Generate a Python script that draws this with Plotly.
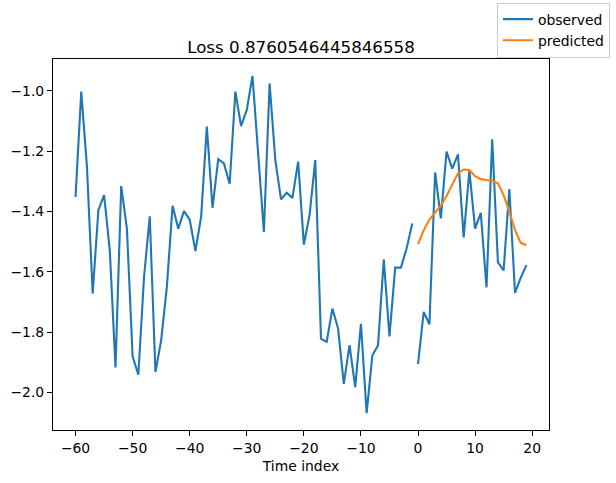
import plotly.graph_objects as go

# Observed history (t = -60 .. -1)
hist_t = list(range(-60, 0))
hist_obs = [
    -1.352, -1.003, -1.252, -1.672, -1.396, -1.346, -1.528, -1.917, -1.316, -1.457,
    -1.880, -1.941, -1.617, -1.416, -1.932, -1.827, -1.650, -1.381, -1.457, -1.399,
    -1.427, -1.531, -1.418, -1.119, -1.388, -1.227, -1.241, -1.309, -1.003, -1.117,
    -1.064, -0.951, -1.210, -1.468, -0.976, -1.230, -1.360, -1.338, -1.355, -1.235,
    -1.510, -1.412, -1.230, -1.821, -1.832, -1.722, -1.788, -1.971, -1.843, -1.982,
    -1.772, -2.068, -1.877, -1.843, -1.559, -1.814, -1.586, -1.586, -1.523, -1.440,
]

# Observed future (t = 0 .. 19)
fut_t = list(range(0, 20))
fut_obs = [
    -1.906, -1.733, -1.774, -1.271, -1.423, -1.202, -1.258, -1.211, -1.486, -1.265,
    -1.457, -1.405, -1.652, -1.161, -1.569, -1.595, -1.326, -1.670, -1.619, -1.578,
]

# Predicted (t = 0 .. 19)
pred = [
    -1.508, -1.462, -1.427, -1.405, -1.381, -1.349, -1.309, -1.274, -1.261, -1.263,
    -1.283, -1.293, -1.296, -1.298, -1.307, -1.346, -1.401, -1.462, -1.504, -1.512,
]

title_text = "Loss 0.8760546445846558"
x_label = "Time index"

FONT = "DejaVu Sans, Liberation Sans, sans-serif"

fig = go.Figure()
fig.add_trace(go.Scatter(
    x=hist_t + [None] + fut_t,
    y=hist_obs + [None] + fut_obs,
    mode="lines", name="observed",
    line=dict(color="#1f77b4", width=2.1),
    connectgaps=False,
))
fig.add_trace(go.Scatter(
    x=fut_t, y=pred, mode="lines", name="predicted",
    line=dict(color="#ff7f0e", width=2.1),
))

fig.update_layout(
    width=616, height=483,
    margin=dict(l=53, r=67, t=59, b=53, autoexpand=False),
    paper_bgcolor="white", plot_bgcolor="white",
    font=dict(family=FONT, size=14, color="black"),
    showlegend=True,
    title=dict(
        text=title_text, x=0.5, xref="paper", xanchor="center",
        y=1.0, yref="paper", yanchor="bottom", pad=dict(b=6),
        font=dict(family=FONT, size=16.7, color="black"),
    ),
    legend=dict(
        x=1.123, y=1.152, xref="paper", yref="paper",
        xanchor="right", yanchor="top",
        bgcolor="rgba(255,255,255,0.8)", bordercolor="#cccccc", borderwidth=1,
        font=dict(family=FONT, size=13.9, color="black"),
        itemwidth=30, tracegroupgap=0,
    ),
    xaxis=dict(
        range=[-63.95, 22.95], tickmode="linear", tick0=-60, dtick=10,
        showgrid=False, zeroline=False, automargin=False,
        showline=True, linecolor="black", linewidth=1.1, mirror=True,
        ticks="outside", ticklen=5, tickwidth=1.1, tickcolor="black",
        tickfont=dict(family=FONT, size=13.9, color="black"),
        title=dict(text=x_label, font=dict(family=FONT, size=13.9, color="black"), standoff=6),
    ),
    yaxis=dict(
        range=[-2.1239, -0.8951], tickmode="linear", tick0=-2.0, dtick=0.2,
        tickformat=".1f", automargin=False,
        showgrid=False, zeroline=False,
        showline=True, linecolor="black", linewidth=1.1, mirror=True,
        ticks="outside", ticklen=5, tickwidth=1.1, tickcolor="black",
        tickfont=dict(family=FONT, size=13.9, color="black"),
    ),
)

fig.write_html(
    "out.html",
    config={"displayModeBar": False},
    post_script="document.body.style.margin='0';document.body.style.padding='0';",
)
